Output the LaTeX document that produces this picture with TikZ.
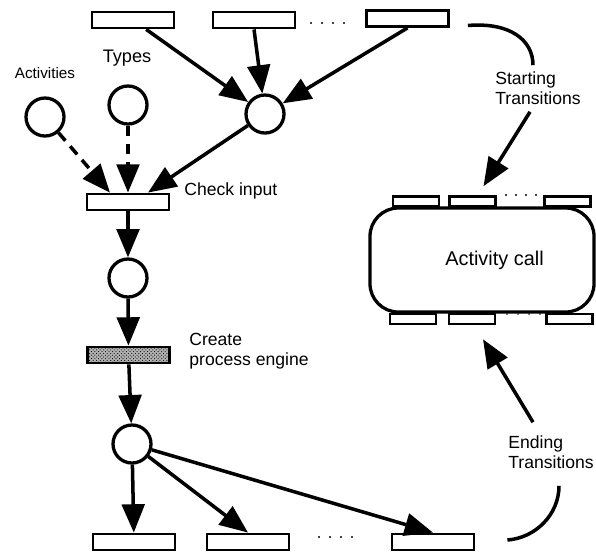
\documentclass[tikz,border=0pt]{standalone}
\usepackage{fontspec}
\setmainfont{Liberation Sans}
\usepackage{tikz}
\usetikzlibrary{arrows.meta,positioning,calc,patterns}

\begin{document}
\begin{tikzpicture}[
    x=0.03cm, y=-0.03cm,
    trans/.style={rectangle, draw, line width=2.4pt, minimum width=2.46cm, minimum height=0.48cm, inner sep=0pt},
    subtrans/.style={rectangle, draw, fill=white, line width=2.2pt, minimum width=1.38cm, minimum height=0.3cm, inner sep=0pt},
    place/.style={circle, draw, line width=2.8pt, minimum size=1.14cm, inner sep=0pt},
    engine/.style={trans, fill=black!30, postaction={pattern=crosshatch dots}},
    callbox/.style={rectangle, draw, line width=2.8pt, rounded corners=0.85cm, minimum width=6.72cm, minimum height=3.12cm, font=\fontsize{17}{20}\selectfont},
    lbl/.style={align=left, inner sep=1pt, font=\fontsize{15}{17}\selectfont},
    flow/.style={-{Triangle[length=8.5mm, width=6.8mm]}, line width=3pt},
    inflow/.style={flow, dash pattern=on 3.2mm off 2.2mm},
    arcline/.style={line width=3pt},
]
    \useasboundingbox (0,0) rectangle (596,552);

    % Starting transitions
    \node[trans] (t1) at (133,20) {};
    \node[trans] (t2) at (254,20) {};
    \node[trans] (t3) at (407.5,18.5) {};
    \foreach \i in {0,...,3} \fill (311+\i*11,23) circle (1pt);

    % Input places
    \node[place] (ptop) at (265,114) {};
    \node[place] (act) at (45,117) {};
    \node[place] (types) at (128,105) {};
    \node[lbl, font=\fontsize{13}{15}\selectfont] (actlbl) at (45,73) {Activities};
    \node[lbl, font=\fontsize{15.5}{17}\selectfont] (typeslbl) at (127,58) {Types};

    % Main line
    \node[trans] (check) at (128,202) {};
    \node[lbl, anchor=west] (checklbl) at (183,191) {Check input};
    \node[place] (p2) at (128,278) {};
    \node[engine] (create) at (128.5,355) {};
    \node[lbl, anchor=west] (createlbl) at (188,351) {Create\\process engine};
    \node[place] (p3) at (132,444) {};

    % Ending transitions
    \node[trans] (b1) at (134,542) {};
    \node[trans] (b2) at (248,542) {};
    \node[trans] (b3) at (433,542) {};
    \foreach \i in {0,...,3} \fill (319+\i*11,537) circle (1pt);

    % Activity call
    \node[callbox] (call) at (482,260) {\hspace*{0.75cm}Activity call};
    \node[subtrans] (ct1) at (416,201.5) {};
    \node[subtrans] (ct2) at (472.5,201.5) {};
    \node[subtrans] (ct3) at (567.5,201.5) {};
    \node[subtrans] (cb1) at (413,319) {};
    \node[subtrans] (cb2) at (472,319) {};
    \node[subtrans] (cb3) at (569.5,319) {};
    \foreach \i in {0,...,3} \fill (506+\i*10,195) circle (1pt);
    \foreach \i in {0,...,3} \fill (507+\i*11,314) circle (0.8pt);

    % Notes
    \node[lbl] (startlbl) at (538,88) {Starting\\Transitions};
    \node[lbl] (endlbl) at (551,452) {Ending\\Transitions};

    % Arcs
    \coordinate (sa) at ($(t3.east)+(18,7)$);
    \coordinate (sb) at ($(startlbl.north)+(-5,-5)$);
    \draw[arcline] (sa) .. controls (510,22) and (533,40) .. (sb);
    \coordinate (ea) at ($(endlbl.south)+(8,16)$);
    \coordinate (eb) at ($(b3.east)+(32,-2)$);
    \draw[arcline] (ea) .. controls (559,515) and (535,538) .. (eb);

    % Edges
    \draw[flow] (t1) -- (ptop);
    \draw[flow] (t2.south) -- (ptop);
    \draw[flow] (t3.south) -- (ptop);
    \draw[flow] (ptop) -- ($(check.north)+(20,0)$);
    \draw[inflow] (act) -- ($(check.north)+(-18,0)$);
    \draw[inflow] (types) -- (check.north);
    \draw[flow] (check) -- (p2);
    \draw[flow] (p2) -- (create);
    \draw[flow] (create) -- (p3);
    \draw[flow] (p3) -- (b1);
    \draw[flow] (p3) -- (b2.north);
    \draw[flow] (p3) -- (b3.north);

    \draw[flow] ($(startlbl.south)+(-8,6)$) -- ($(ct2.north)+(11,-9)$);
    \draw[flow] ($(endlbl.north)+(-18,-12)$) -- ($(cb2.south)+(11,14)$);
\end{tikzpicture}
\end{document}
